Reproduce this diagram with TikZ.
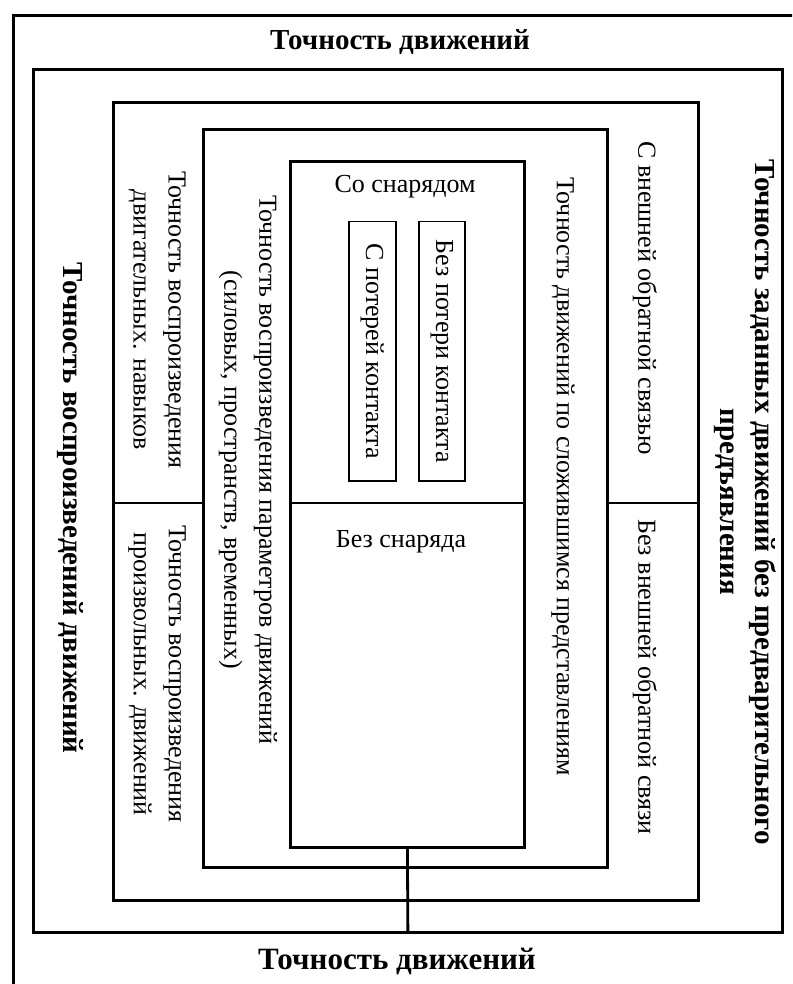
\documentclass[tikz,border=0pt]{standalone}
\usepackage{fontspec}
\setmainfont{Liberation Serif}
\begin{document}
\begin{tikzpicture}[x=1pt,y=-1pt,
  frame/.style={draw, line width=2.8pt, inner sep=0pt, anchor=north west},
  subbox/.style={draw, line width=1.5pt, inner sep=0pt, anchor=north west},
  divline/.style={line width=2.8pt},
  htext/.style={font=\fontsize{26}{30}\selectfont, inner sep=0pt},
  vtext/.style={rotate=-90, font=\fontsize{26}{35}\selectfont, inner sep=0pt, align=center},
  htitle/.style={font=\fontsize{29}{34}\selectfont\bfseries, inner sep=0pt},
  vtitle/.style={rotate=-90, font=\fontsize{29}{35}\selectfont\bfseries, inner sep=0pt, align=center}]
\useasboundingbox (0,0) rectangle (792,984);
\fill[white] (0,0) rectangle (792,984);
\begin{scope}
\clip (0,0) rectangle (792,984);
\node[frame, minimum width=840pt, minimum height=1010pt] (f1) at (12,14) {};
\end{scope}
\node[frame, minimum width=749pt, minimum height=863pt] (f2) at (32,68) {};
\node[frame, minimum width=585pt, minimum height=798pt] (f3) at (112,101) {};
\node[frame, minimum width=404pt, minimum height=738pt] (f4) at (202,128) {};
\node[frame, minimum width=234pt, minimum height=686pt] (f5) at (289,160) {};
\node[subbox, minimum width=47pt, minimum height=259pt] (sa) at (348,221) {};
\node[subbox, minimum width=46pt, minimum height=259pt] (sb) at (418,221) {};
\coordinate (dv) at (0,503);
\draw[divline] (f3.west |- dv) -- (f4.west |- dv);
\draw[divline] (f5.west |- dv) -- (f5.east |- dv);
\draw[divline] (f4.east |- dv) -- (f3.east |- dv);
\draw[divline] (f5.south) -- (f2.south);
% titles
\node[htitle] (ttop) at (400,42) {Точность движений};
\node[htitle, font=\fontsize{31}{36}\selectfont\bfseries] (tbot) at (397,962) {Точность движений};
\node[vtitle] (tleft) at (70,508) {Точность воспроизведений движений};
\node[vtitle] (tright) at (745,502) {Точность заданных движений без предварительного\\предъявления};
% left strips
\node[vtext] (lu) at (157,320) {Точность воспроизведения\\двигательных. навыков};
\node[vtext] (ll) at (157,674) {Точность воспроизведения\\произвольных. движений};
\node[vtext] (pm) at (248,470) {Точность воспроизведения параметров движений\\(силовых, пространств, временных)};
% right strips
\node[vtext] (sl) at (563,477) {Точность движений по сложившимся представлениям};
\node[vtext] (ru) at (645,298) {С внешней обратной связью};
\node[vtext] (rl) at (645,677) {Без внешней обратной связи};
% inner
\node[htext] (so) at (405,187) {Со снарядом};
\node[htext] (bez) at (401,542) {Без снаряда};
\node[vtext] (tsa) at (sa.center) {С потерей контакта};
\node[vtext] (tsb) at (sb.center) {Без потери контакта};
\end{tikzpicture}
\end{document}
